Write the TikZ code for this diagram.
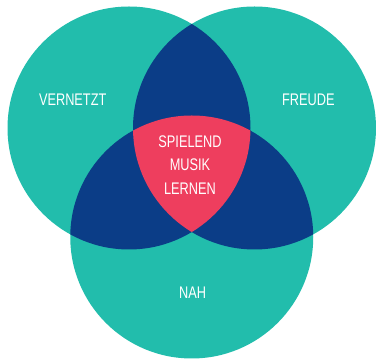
\documentclass[tikz,border=0pt]{standalone}
\usepackage{fontspec}
\setmainfont{Liberation Sans}[FakeStretch=0.76]
\definecolor{teal}{HTML}{22BDAC}
\definecolor{navy}{HTML}{0B3D87}
\definecolor{rosered}{HTML}{EE3E5E}
\begin{document}
\begin{tikzpicture}[
              x = 1pt, y = 1pt,
              label/.style = {text = white, font = \fontsize{16.8}{23.3}\selectfont, align = center, inner sep = 0pt}
            ]
            \useasboundingbox (0, 0) rectangle (376, 359);
            % centres of the three circles
            \coordinate (cl) at (129,   231);
            \coordinate (cr) at (254.5, 231);
            \coordinate (cb) at (191.75, 122);
            \def\rad{121.5}
            % the circles
            \fill[teal] (cl) circle[radius = \rad];
            \fill[teal] (cr) circle[radius = \rad];
            \fill[teal] (cb) circle[radius = \rad];
            % pairwise overlaps
            \begin{scope}
              \clip (cl) circle[radius = \rad];
              \fill[navy] (cr) circle[radius = \rad];
              \fill[navy] (cb) circle[radius = \rad];
            \end{scope}
            \begin{scope}
              \clip (cr) circle[radius = \rad];
              \fill[navy] (cb) circle[radius = \rad];
            \end{scope}
            % the middle
            \begin{scope}
              \clip (cl) circle[radius = \rad];
              \clip (cr) circle[radius = \rad];
              \fill[rosered] (cb) circle[radius = \rad];
            \end{scope}
            % labels
            \node[label] (vernetzt) at (72.7,  259) {VERNETZT};
            \node[label] (freude)   at (308.3, 259) {FREUDE};
            \node[label] (nah)      at (192.7,  66) {NAH};
            \node[label] (middle)   at (190,   194) {SPIELEND\\MUSIK\\LERNEN};
          \end{tikzpicture}
\end{document}
